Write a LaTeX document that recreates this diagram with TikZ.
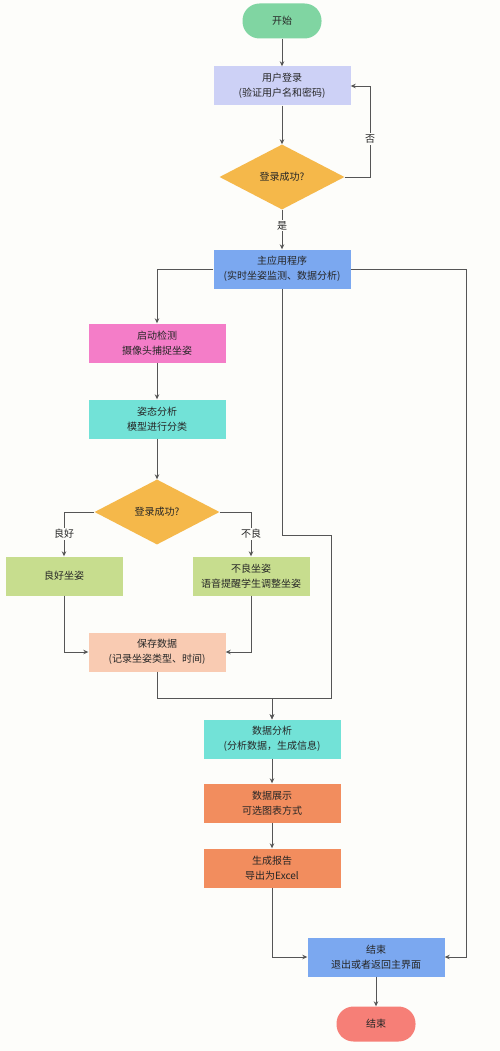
\documentclass[tikz,border=0pt]{standalone}
\usepackage{fontspec}
\setmainfont{Noto Sans CJK SC}
\usetikzlibrary{positioning}
\usetikzlibrary{arrows.meta,shapes.geometric}

\definecolor{bg}{HTML}{FDFDFA}
\definecolor{lineGray}{HTML}{555555}
\definecolor{cStart}{HTML}{80D5A2}
\definecolor{cLogin}{HTML}{CDD1F6}
\definecolor{cChoice}{HTML}{F5B84A}
\definecolor{cMain}{HTML}{7BA8F0}
\definecolor{cPink}{HTML}{F47DC8}
\definecolor{cTeal}{HTML}{72E2D7}
\definecolor{cLime}{HTML}{C7DD8E}
\definecolor{cPeach}{HTML}{F9CBB2}
\definecolor{cOrange}{HTML}{F28D5E}
\definecolor{cEnd}{HTML}{F67F77}

\begin{document}
\begin{tikzpicture}[x=1pt,y=-1pt,
    box/.style={minimum width=137pt, minimum height=39pt, inner sep=2pt, align=center,
        font=\fontsize{10}{15}\selectfont, text=black!85},
    smallbox/.style={box, minimum width=117pt},
    pill/.style={box, rounded corners=17pt, minimum width=79pt, minimum height=35pt},
    choice/.style={diamond, aspect=1.9, minimum width=125pt, minimum height=65pt, inner sep=0pt,
        fill=cChoice, font=\fontsize{10}{15}\selectfont, text=black!85},
    flow/.style={draw=lineGray, line width=0.8pt, -{Stealth[length=5pt,width=4.5pt]}},
    edge label/.style={fill=bg, inner sep=1.5pt, font=\fontsize{10}{12}\selectfont, text=black!85}]

    % background
    \fill[bg] (0,0) rectangle (500,1051);

    % Login
    \node[pill, fill=cStart] (start) at (282,21) {开始};
    \node[box, fill=cLogin] (login) at (282,86) {用户登录\\(验证用户名和密码)};
    \node[choice] (check1) at (282,177) {登录成功?};
    \node[box, fill=cMain] (mainapp) at (282,269) {主应用程序\\(实时坐姿监测、数据分析)};

    % Detection
    \node[box, fill=cPink] (detect) at (157,343) {启动检测\\摄像头捕捉坐姿};
    \node[box, fill=cTeal] (posture) at (157,419) {姿态分析\\模型进行分类};
    \node[choice] (check2) at (157,512) {登录成功?};
    \node[smallbox, fill=cLime] (good) at (64,576) {良好坐姿};
    \node[smallbox, fill=cLime] (bad) at (251,576) {不良坐姿\\语音提醒学生调整坐姿};
    \node[box, fill=cPeach] (save) at (157,652) {保存数据\\(记录坐姿类型、时间)};

    % Analysis
    \node[box, fill=cTeal] (analysis) at (272,739) {数据分析\\(分析数据，生成信息)};
    \node[box, fill=cOrange] (display) at (272,803) {数据展示\\可选图表方式};
    \node[box, fill=cOrange] (report) at (272,868) {生成报告\\导出为Excel};
    \node[box, fill=cMain] (quit) at (376,957) {结束\\退出或者返回主界面};
    \node[pill, fill=cEnd] (finish) at (376,1024) {结束};

    % Connectors
    \draw[flow] (start) -- (login);
    \draw[flow] (login) -- (check1);
    \draw[flow] (check1.east) -- (370,177) |- (login.east);
    \node[edge label] (lblNo) at (370,139) {否};
    \draw[flow] (check1) -- node[edge label, pos=0.4] (lblYes) {是} (mainapp);
    \draw[flow] (mainapp.west) -| (detect.north);
    \draw[flow] (mainapp.east) -- (466,269) |- (quit.east);
    \draw[flow] (mainapp.south) |- (331,535) -- (331,698) -| (analysis.north);
    \draw[flow] (detect) -- (posture);
    \draw[flow] (posture) -- (check2);
    \draw[flow] (check2.west) -| (good.north);
    \node[edge label] (lblGood) at (64,534) {良好};
    \draw[flow] (check2.east) -| (bad.north);
    \node[edge label] (lblBad) at (251,534) {不良};
    \draw[flow] (good.south) |- (save.west);
    \draw[flow] (bad.south) |- (save.east);
    \draw[flow] (save.south) |- (272,698) -- (analysis.north);
    \draw[flow] (analysis) -- (display);
    \draw[flow] (display) -- (report);
    \draw[flow] (report.south) |- (quit.west);
    \draw[flow] (quit) -- (finish);

\end{tikzpicture}
\end{document}
